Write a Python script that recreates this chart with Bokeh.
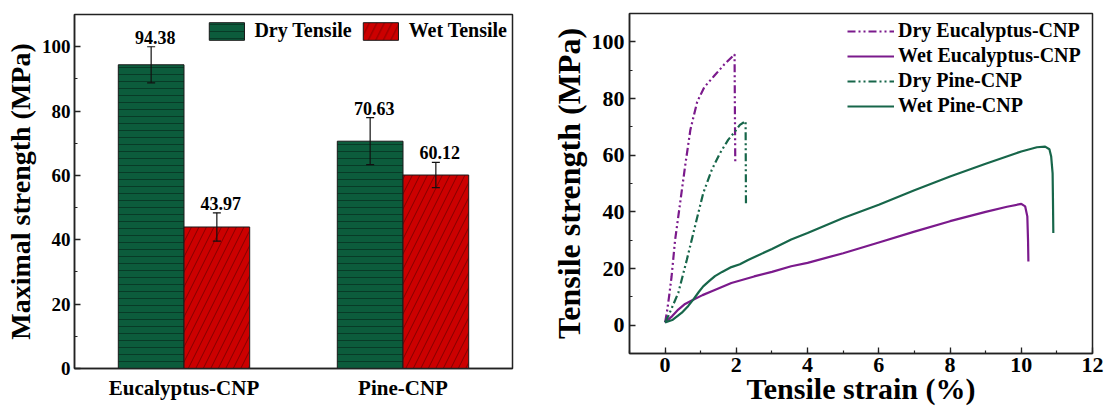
from bokeh.plotting import figure
from bokeh.layouts import row
from bokeh.models import (ColumnDataSource, Legend, LegendItem, SingleIntervalTicker,
                          FactorRange, Range1d)
from bokeh.transform import dodge
from bokeh.core.properties import value
from bokeh.embed import file_html
from bokeh.resources import INLINE

FONT = "Liberation Serif"

# ---------------- data: left panel (bar chart) ----------------
categories = ["Eucalyptus-CNP", "Pine-CNP"]
dry_strength = [94.38, 70.63]
wet_strength = [43.97, 60.12]
dry_error = [5.6, 7.3]
wet_error = [4.4, 3.9]

# ---------------- data: right panel (stress-strain curves) ----------------
dry_euc_x = [0, 0.05, 0.11, 0.18, 0.28, 0.42, 0.56, 0.71, 0.90, 1.10, 1.38, 1.66, 1.95, 1.96, 1.97]
dry_euc_y = [1, 4.5, 10, 17, 30, 43, 56, 69, 78.8, 84, 88, 92, 95.6, 75, 57.2]

wet_euc_x = [0, 0.2, 0.37, 0.56, 0.79, 1.05, 1.31, 1.86, 2.5, 3.0, 3.54, 4.0, 5.0, 6.0,
             7.0, 8.0, 9.0, 9.6, 10.0, 10.11, 10.17, 10.19, 10.2]
wet_euc_y = [1, 3.2, 5.5, 7.5, 9.0, 10.6, 12.0, 14.9, 17.2, 18.8, 20.8, 22.0, 25.4, 29.2,
             33.0, 36.7, 40.0, 41.8, 42.8, 41.9, 38.4, 30.0, 22.5]

dry_pine_x = [0, 0.09, 0.37, 0.61, 0.84, 1.07, 1.31, 1.54, 1.77, 1.96, 2.10, 2.26, 2.27]
dry_pine_y = [1, 3.2, 11.4, 23.1, 34.9, 46.6, 54.8, 60.7, 65.4, 68.3, 70.7, 72.0, 42.8]

wet_pine_x = [0, 0.2, 0.47, 0.65, 0.79, 0.95, 1.07, 1.25, 1.40, 1.6, 1.86, 2.1, 2.33, 3.0,
              3.54, 4.0, 5.0, 6.0, 7.0, 8.0, 9.0, 10.0, 10.44, 10.67, 10.79, 10.84, 10.88,
              10.89, 10.9]
wet_pine_y = [1, 1.8, 4.4, 6.8, 9.0, 11.8, 13.7, 15.7, 17.3, 18.8, 20.5, 21.5, 23.0, 26.9,
              30.2, 32.5, 37.8, 42.5, 47.6, 52.5, 57.0, 61.3, 62.8, 63.0, 62.1, 59.5, 53.6,
              44.2, 32.5]

BAR_GREEN = "#0c5c3c"
BAR_RED = "#cc0000"
PURPLE = "#7b1a8c"
GREEN = "#17664a"


def style_axes(p, tick_size, label_size):
    for ax in (p.xaxis, p.yaxis):
        ax.axis_line_color = "#222222"
        ax.axis_line_width = 1.5
        ax.major_label_text_font = FONT
        ax.major_label_text_font_style = "bold"
        ax.major_label_text_font_size = tick_size
        ax.major_label_text_color = "black"
        ax.axis_label_text_font = FONT
        ax.axis_label_text_font_style = "bold"
        ax.axis_label_text_font_size = label_size
        ax.axis_label_text_color = "black"
        ax.major_tick_in = 6
        ax.major_tick_out = 0
        ax.minor_tick_in = 3
        ax.minor_tick_out = 0
        ax.major_tick_line_color = "#222222"
        ax.minor_tick_line_color = "#222222"
        ax.major_tick_line_width = 1.3
        ax.minor_tick_line_width = 1.2
    p.grid.visible = False
    p.outline_line_color = "#222222"
    p.outline_line_width = 1.5
    p.background_fill_color = "white"
    p.border_fill_color = "white"
    if "frame_align" in p.properties():
        p.frame_align = False


# ================= left panel =================
src = ColumnDataSource(dict(
    cat=categories,
    dry=dry_strength,
    wet=wet_strength,
    dry_up=[v + e for v, e in zip(dry_strength, dry_error)],
    dry_lo=[v - e for v, e in zip(dry_strength, dry_error)],
    wet_up=[v + e for v, e in zip(wet_strength, wet_error)],
    wet_lo=[v - e for v, e in zip(wet_strength, wet_error)],
    dry_lbl=["%.2f" % v for v in dry_strength],
    wet_lbl=["%.2f" % v for v in wet_strength],
))

p1 = figure(x_range=FactorRange(*categories), y_range=Range1d(0, 110),
            width=547, height=412, output_backend="svg", toolbar_location=None,
            min_border_left=74, min_border_right=35, min_border_top=14, min_border_bottom=44)

dx_dry = dodge("cat", -0.15, range=p1.x_range)
dx_wet = dodge("cat", 0.15, range=p1.x_range)

r_dry = p1.vbar(x=dx_dry, top="dry", width=0.3, source=src,
                fill_color=BAR_GREEN, line_color="#1a1a1a", line_width=1,
                hatch_pattern="horizontal_line", hatch_color="black", hatch_alpha=0.45,
                hatch_scale=7, hatch_weight=0.8)
r_wet = p1.vbar(x=dx_wet, top="wet", width=0.3, source=src,
                fill_color=BAR_RED, line_color="#1a1a1a", line_width=1,
                hatch_pattern="right_diagonal_line", hatch_color="#330000", hatch_alpha=0.6,
                hatch_scale=15, hatch_weight=0.8)

for dx, up, lo in ((dx_dry, "dry_up", "dry_lo"), (dx_wet, "wet_up", "wet_lo")):
    p1.segment(x0=dx, y0=lo, x1=dx, y1=up, source=src, line_color="#111111", line_width=1.2)
    p1.scatter(x=dx, y=up, marker="dash", size=8, source=src, line_color="#111111", line_width=1.2)
    p1.scatter(x=dx, y=lo, marker="dash", size=8, source=src, line_color="#111111", line_width=1.2)

for dx, up, lbl in ((dx_dry, "dry_up", "dry_lbl"), (dx_wet, "wet_up", "wet_lbl")):
    p1.text(x=dx, y=up, text=lbl, source=src, x_offset=4, y_offset=-3,
            text_align="center", text_baseline="bottom", text_color="black",
            text_font=value(FONT), text_font_style="bold", text_font_size="18px")

p1.yaxis.axis_label = "Maximal strength (MPa)"
p1.yaxis.ticker = SingleIntervalTicker(interval=20, num_minor_ticks=2)
style_axes(p1, "19px", "28px")
p1.xaxis.major_label_text_font_size = "21px"
p1.xaxis.major_tick_line_color = None
p1.xaxis.minor_tick_line_color = None
p1.xaxis.major_label_standoff = 7
p1.yaxis.major_label_standoff = 4
p1.yaxis.axis_label_standoff = 3

leg1 = Legend(items=[LegendItem(label="Dry Tensile", renderers=[r_dry]),
                     LegendItem(label="Wet Tensile", renderers=[r_wet])],
              orientation="horizontal", location="top_right",
              glyph_width=44, glyph_height=22, label_standoff=6, spacing=7,
              padding=5, margin=0, border_line_alpha=0, background_fill_alpha=0,
              label_text_font=FONT, label_text_font_style="bold",
              label_text_font_size="20px", label_text_color="black")
p1.add_layout(leg1)

# ================= right panel =================
p2 = figure(x_range=Range1d(-1, 12), y_range=Range1d(-10, 110),
            width=560, height=412, output_backend="svg", toolbar_location=None,
            min_border_left=81, min_border_right=15, min_border_top=13, min_border_bottom=59)

DASH = "8 3 2 3 2 3"
l_de = p2.line(dry_euc_x, dry_euc_y, line_color=PURPLE, line_width=2.2, line_dash=DASH)
l_we = p2.line(wet_euc_x, wet_euc_y, line_color=PURPLE, line_width=2.2)
l_dp = p2.line(dry_pine_x, dry_pine_y, line_color=GREEN, line_width=2.2, line_dash=DASH)
l_wp = p2.line(wet_pine_x, wet_pine_y, line_color=GREEN, line_width=2.2)

p2.xaxis.axis_label = "Tensile strain (%)"
p2.yaxis.axis_label = "Tensile strength (MPa)"
p2.xaxis.ticker = SingleIntervalTicker(interval=2, num_minor_ticks=2)
p2.yaxis.ticker = SingleIntervalTicker(interval=20, num_minor_ticks=2)
style_axes(p2, "22px", "32px")
p2.xaxis.axis_label_text_font_size = "30px"
p2.xaxis.major_label_standoff = 4
p2.xaxis.axis_label_standoff = -3
p2.yaxis.major_label_standoff = 5
p2.yaxis.axis_label_standoff = 2

leg2 = Legend(items=[LegendItem(label="Dry Eucalyptus-CNP", renderers=[l_de]),
                     LegendItem(label="Wet Eucalyptus-CNP", renderers=[l_we]),
                     LegendItem(label="Dry Pine-CNP", renderers=[l_dp]),
                     LegendItem(label="Wet Pine-CNP", renderers=[l_wp])],
              location=(218, 236), glyph_width=47, glyph_height=20, label_height=20,
              label_standoff=4, spacing=2, padding=0, margin=0,
              border_line_alpha=0, background_fill_alpha=0,
              label_text_font=FONT, label_text_font_style="bold",
              label_text_font_size="20px", label_text_color="black")
p2.add_layout(leg2)

layout = row(p1, p2)
open("out.html", "w").write(file_html(layout, INLINE))
